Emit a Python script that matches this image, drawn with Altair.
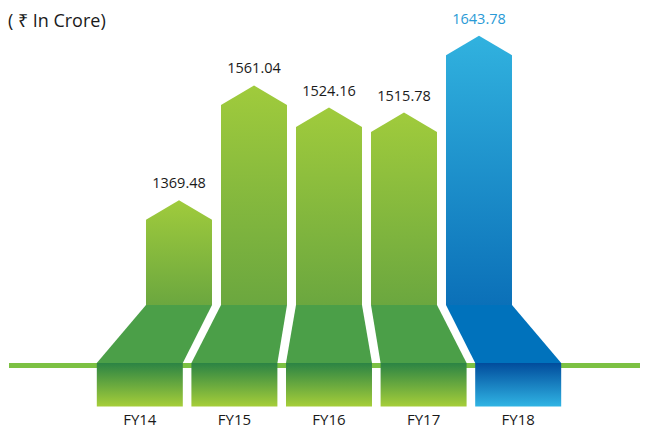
import altair as alt
import pandas as pd

# ---- data ----
categories = ["FY14", "FY15", "FY16", "FY17", "FY18"]
values = [1369.48, 1561.04, 1524.16, 1515.78, 1643.78]
value_labels = ["1369.48", "1561.04", "1524.16", "1515.78", "1643.78"]
highlight = "FY18"
unit_title = "( \u20b9 In Crore)"

# ---- layout constants (scale units) ----
X_DOMAIN = [-2.28, 6.1467]
Y_DOMAIN = [990, 1690]
COL_HW = 0.44        # half width of the upper column
BOT_SPREAD = 1.2613  # spacing of the lower blocks
BOT_HW = 0.5733      # half width of the lower blocks
ARROW = 32.5         # height of the arrow tip
BASE = 1195          # column bottom
TRAP_BOT = 1098.3    # bottom of the connecting trapezoid
RECT_BOT = 1025.8    # bottom of the lower blocks
LINE_Y = 1094.2      # baseline rule
CAT_Y = 1003.3       # category labels

FONT = "Open Sans"

col_rows, trap_rows, rect_rows, lab_rows = [], [], [], []
for i, (c, v, lab) in enumerate(zip(categories, values, value_labels)):
    cx = i
    bx = 2 + (i - 2) * BOT_SPREAD
    grp = "hi" if c == highlight else "base"
    col_rows += [
        dict(cat=c, grp=grp, x=cx - COL_HW, y=v - ARROW, y2=BASE),
        dict(cat=c, grp=grp, x=cx, y=v, y2=BASE),
        dict(cat=c, grp=grp, x=cx + COL_HW, y=v - ARROW, y2=BASE),
    ]
    trap_rows += [
        dict(cat=c, grp=grp, y=BASE, x=cx - COL_HW, x2=cx + COL_HW),
        dict(cat=c, grp=grp, y=TRAP_BOT, x=bx - BOT_HW, x2=bx + BOT_HW),
    ]
    rect_rows.append(dict(cat=c, grp=grp, x=bx - BOT_HW, x2=bx + BOT_HW, y=TRAP_BOT, y2=RECT_BOT))
    lab_rows.append(dict(cat=c, grp=grp, cx=cx, bx=bx, v=v, label=lab, ly=CAT_Y))

col_df = pd.DataFrame(col_rows)
trap_df = pd.DataFrame(trap_rows)
rect_df = pd.DataFrame(rect_rows)
lab_df = pd.DataFrame(lab_rows)

xs = alt.Scale(domain=X_DOMAIN, nice=False, zero=False)
ys = alt.Scale(domain=Y_DOMAIN, nice=False, zero=False)


def grad(top, bottom):
    return {
        "gradient": "linear",
        "x1": 0, "y1": 0, "x2": 0, "y2": 1,
        "stops": [{"offset": 0, "color": top}, {"offset": 1, "color": bottom}],
    }


GREEN_COL = grad("#a0cb3c", "#6ba73f")
BLUE_COL = grad("#31b2df", "#0b70b8")
GREEN_RECT = grad("#2b8444", "#a6ce39")
BLUE_RECT = grad("#014c9c", "#30b4e4")
GREEN_TRAP = "#4b9f48"
BLUE_TRAP = "#0072bc"

line = alt.Chart(pd.DataFrame({"y": [LINE_Y]})).mark_rule(
    color="#7cc143", strokeWidth=5
).encode(
    y=alt.Y("y:Q", scale=ys, axis=None),
    x=alt.value(1),
    x2=alt.value(632),
)


def rect_layer(grp, fill):
    return alt.Chart(rect_df).transform_filter(alt.datum.grp == grp).mark_rect(
        color=fill
    ).encode(
        x=alt.X("x:Q", scale=xs, axis=None),
        x2="x2:Q",
        y=alt.Y("y:Q", scale=ys, axis=None),
        y2="y2:Q",
    )


def trap_layer(grp, fill):
    return alt.Chart(trap_df).transform_filter(alt.datum.grp == grp).mark_area(
        orient="horizontal", color=fill
    ).encode(
        y=alt.Y("y:Q", scale=ys, axis=None),
        x=alt.X("x:Q", scale=xs, axis=None, stack=None),
        x2="x2:Q",
        detail="cat:N",
    )


def col_layer(grp, fill):
    return alt.Chart(col_df).transform_filter(alt.datum.grp == grp).mark_area(
        color=fill, interpolate="linear"
    ).encode(
        x=alt.X("x:Q", scale=xs, axis=None),
        y=alt.Y("y:Q", scale=ys, axis=None, stack=None),
        y2="y2:Q",
        detail="cat:N",
    )


value_text = alt.Chart(lab_df).mark_text(
    font=FONT, fontSize=14.5, baseline="alphabetic", dy=-12
).encode(
    x=alt.X("cx:Q", scale=xs, axis=None),
    y=alt.Y("v:Q", scale=ys, axis=None),
    text="label:N",
    color=alt.Color("grp:N", scale=alt.Scale(domain=["base", "hi"], range=["#1a1a1a", "#2a9ad6"]), legend=None),
)

cat_text = alt.Chart(lab_df).mark_text(
    font=FONT, fontSize=15, baseline="middle", color="#1a1a1a"
).encode(
    x=alt.X("bx:Q", scale=xs, axis=None),
    y=alt.Y("ly:Q", scale=ys, axis=None),
    text="cat:N",
)

title_text = alt.Chart(pd.DataFrame({"t": [unit_title]})).mark_text(
    font=FONT, fontSize=18, align="left", baseline="alphabetic", color="#1a1a1a"
).encode(
    x=alt.value(0),
    y=alt.value(19),
    text="t:N",
)

chart = alt.layer(
    line,
    rect_layer("base", GREEN_RECT), rect_layer("hi", BLUE_RECT),
    trap_layer("base", GREEN_TRAP), trap_layer("hi", BLUE_TRAP),
    col_layer("base", GREEN_COL), col_layer("hi", BLUE_COL),
    value_text, cat_text, title_text,
).properties(
    width=632, height=420, padding=0,
    autosize=alt.AutoSizeParams(type="none"),
).configure_view(stroke=None)

chart.save("out.html", embed_options={"renderer": "svg", "actions": False})
